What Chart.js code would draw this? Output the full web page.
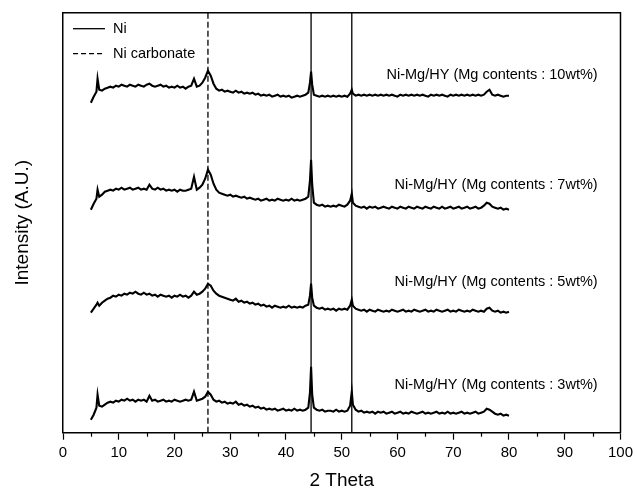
<!DOCTYPE html>
<html>
<head>
<meta charset="utf-8">
<script src="https://cdn.jsdelivr.net/npm/chart.js@4.4.1/dist/chart.umd.min.js"></script>
<style>
  html, body { margin: 0; padding: 0; background: #fff; }
</style>
</head>
<body>
<canvas id="xrd" width="637" height="492"></canvas>
<script>
// 2 theta grid shared by all four patterns
const twoTheta = [5,5.5,6,6.2,6.5,7,7.5,8,8.5,9,
  9.5,10,10.5,11,11.5,12,12.5,13,13.5,14,
  14.5,15,15.5,16,16.5,17,17.5,18,18.5,19,
  19.5,20,20.5,21,21.5,22,22.5,23,23.5,24,
  24.5,25,25.5,26,26.5,27,27.5,28,28.5,29,
  29.5,30,30.5,31,31.5,32,32.5,33,33.5,34,
  34.5,35,35.5,36,36.5,37,37.5,38,38.5,39,
  39.5,40,40.5,41,41.5,42,42.5,43,43.5,44,
  44.3,44.5,44.7,45,45.5,46,46.5,47,47.5,48,
  48.5,49,49.5,50,50.5,51,51.5,51.8,52,52.5,
  53,53.5,54,54.5,55,55.5,56,56.5,57,57.5,
  58,58.5,59,59.5,60,60.5,61,61.5,62,62.5,
  63,63.5,64,64.5,65,65.5,66,66.5,67,67.5,
  68,68.5,69,69.5,70,70.5,71,71.5,72,72.5,
  73,73.5,74,74.5,75,75.5,76,76.5,77,77.5,
  78,78.5,79,79.5,80];

// intensities (offset, arbitrary units)
const mg3 = [13,18,25,38,27,26,28,30,31,30,
  32,31,33,32,34,32,33,31,33,32,
  33,31,37,32,33,31,32,33,31,32,
  31,33,32,31,32,33,32,33,41,32,
  33,34,36,41,38,33,31,32,30,31,
  29,30,29,31,28,29,27,28,26,27,
  25,26,24,25,23,24,23,24,22,23,
  24,22,23,22,24,22,23,22,23,25,
  40,66,38,25,23,22,23,21,22,22,
  21,23,21,22,21,22,27,41,28,23,
  21,22,20,21,20,21,19,21,20,21,
  19,20,21,19,20,21,19,20,19,21,
  20,19,20,21,19,20,19,20,21,19,
  20,19,21,19,20,19,20,21,19,20,
  19,20,21,19,20,21,24,23,21,19,
  18,19,17,18,17];

const mg5 = [120,124,128,130,127,130,132,134,135,137,
  136,138,137,139,138,140,139,141,139,138,
  140,138,139,137,138,136,138,137,136,137,
  135,137,136,138,136,137,135,137,141,138,
  139,141,144,149,147,142,139,137,136,135,
  134,133,132,134,131,132,130,131,129,130,
  128,129,127,128,126,127,125,127,126,125,
  126,125,127,125,126,125,126,125,127,128,
  137,149,135,127,125,124,125,123,124,123,
  124,122,124,123,124,123,127,133,127,124,
  123,122,123,121,123,122,121,123,122,121,
  122,121,123,122,121,122,123,121,122,121,
  123,122,121,122,123,121,122,121,123,122,
  121,122,123,121,122,121,123,122,121,122,
  121,123,122,121,122,121,124,125,122,121,
  122,120,121,120,121];

const mg7 = [223,229,234,243,236,238,241,242,243,242,
  244,243,245,243,244,245,243,244,245,243,
  244,243,248,244,243,245,243,244,242,243,
  242,243,241,243,242,242,243,244,256,243,
  245,248,254,263,258,249,243,240,239,238,
  237,238,236,237,236,235,236,234,235,234,
  233,234,232,233,234,232,233,232,234,233,
  232,233,232,234,232,233,232,233,234,236,
  252,273,248,230,228,227,228,226,227,226,
  227,226,228,227,226,228,232,239,230,227,
  226,225,226,224,226,225,226,224,225,226,
  225,224,226,225,224,226,225,224,226,225,
  224,226,225,224,226,225,224,226,225,224,
  226,224,225,226,224,225,226,224,225,226,
  224,225,226,224,225,227,230,229,226,225,
  224,225,223,224,223];

const mg10 = [330,336,341,354,343,342,344,345,346,345,
  347,346,348,347,346,348,347,346,348,347,
  346,348,349,347,346,347,348,346,347,345,
  346,345,347,345,346,344,346,347,354,346,
  347,350,355,362,357,349,344,342,343,341,
  342,341,340,342,340,341,339,340,339,340,
  338,339,337,338,337,338,336,337,338,336,
  337,336,337,335,336,337,336,337,338,340,
  350,361,348,338,337,336,337,336,337,336,
  337,336,337,336,337,336,339,343,339,337,
  338,337,338,337,338,337,338,337,338,337,
  338,337,338,337,336,338,337,338,337,338,
  337,338,337,338,337,336,338,337,338,337,
  338,337,336,338,337,338,337,338,337,338,
  337,338,337,338,337,338,341,343,338,337,
  338,337,336,337,337];

const sampleNames = [
  'Ni-Mg/HY (Mg contents : 3wt%)',
  'Ni-Mg/HY (Mg contents : 5wt%)',
  'Ni-Mg/HY (Mg contents : 7wt%)',
  'Ni-Mg/HY (Mg contents : 10wt%)'
];
const niPeaks = [44.5, 51.8];
const carbonatePeaks = [26];
const xTicks = [0, 10, 20, 30, 40, 50, 60, 70, 80, 90, 100];

const FONT = "'Liberation Sans', Arial, sans-serif";
const yMin = 0, yMax = 420;

const toPoints = ys => twoTheta.map((x, i) => ({ x: x, y: ys[i] }));
const vline = x => [{ x: x, y: yMin }, { x: x, y: yMax }];

const datasets = [];
[mg3, mg5, mg7, mg10].forEach((ys, i) => {
  datasets.push({
    label: sampleNames[i],
    data: toPoints(ys),
    borderColor: '#000',
    borderWidth: 2.1,
    pointRadius: 0,
    tension: 0
  });
});
niPeaks.forEach(p => {
  datasets.push({ label: 'Ni', data: vline(p), borderColor: '#111', borderWidth: 1.4, pointRadius: 0 });
});
carbonatePeaks.forEach(p => {
  datasets.push({ label: 'Ni carbonate', data: vline(p), borderColor: '#111', borderWidth: 1.4, borderDash: [6, 3], pointRadius: 0 });
});

// frame, minor ticks, legend and sample labels
const overlay = {
  id: 'overlay',
  afterDraw(chart) {
    const { ctx, chartArea: a, scales } = chart;
    const x = scales.x, y = scales.y;
    ctx.save();
    ctx.strokeStyle = '#000';
    ctx.lineWidth = 1.5;
    ctx.beginPath();
    ctx.moveTo(a.left, a.top);
    ctx.lineTo(a.right, a.top);
    ctx.lineTo(a.right, a.bottom);
    ctx.stroke();

    ctx.lineWidth = 1.2;
    for (let v = 5; v < 100; v += 10) {
      const px = Math.round(x.getPixelForValue(v)) + 0.5;
      ctx.beginPath();
      ctx.moveTo(px, a.bottom);
      ctx.lineTo(px, a.bottom + 4);
      ctx.stroke();
    }

    // legend
    ctx.font = '14.5px ' + FONT;
    ctx.fillStyle = '#000';
    ctx.textBaseline = 'middle';
    ctx.textAlign = 'left';
    const items = [{ text: 'Ni', dash: [] }, { text: 'Ni carbonate', dash: [5, 3] }];
    items.forEach((it, i) => {
      const ly = a.top + 16 + i * 25;
      ctx.setLineDash(it.dash);
      ctx.lineWidth = 1.3;
      ctx.beginPath();
      ctx.moveTo(a.left + 10, ly);
      ctx.lineTo(a.left + 42, ly);
      ctx.stroke();
      ctx.setLineDash([]);
      ctx.fillText(it.text, a.left + 50, ly);
    });

    // sample labels
    const labelY = [48, 151, 248, 358];
    ctx.textAlign = 'right';
    sampleNames.forEach((s, i) => {
      ctx.fillText(s, x.getPixelForValue(95.9), y.getPixelForValue(labelY[i]));
    });
    ctx.restore();
  }
};

new Chart(document.getElementById('xrd'), {
  type: 'line',
  data: { datasets: datasets },
  plugins: [overlay],
  options: {
    responsive: false,
    animation: false,
    layout: { padding: { top: 12.7, right: 16, left: 0, bottom: 0 } },
    plugins: { legend: { display: false }, tooltip: { enabled: false } },
    scales: {
      x: {
        type: 'linear',
        min: 0,
        max: 100,
        afterBuildTicks: s => { s.ticks = xTicks.map(v => ({ value: v })); },
        afterFit: s => { s.height = 59.3; },
        ticks: { color: '#000', font: { family: FONT, size: 15 }, padding: 4, maxRotation: 0 },
        grid: { display: true, drawOnChartArea: false, drawTicks: true, tickLength: 7, tickColor: '#000', tickWidth: 1.2 },
        border: { display: true, color: '#000', width: 1.5 },
        title: { display: true, text: '2 Theta', color: '#000', font: { family: FONT, size: 19 }, padding: { top: 0, bottom: 0 } }
      },
      y: {
        type: 'linear',
        min: yMin,
        max: yMax,
        afterFit: s => { s.width = 63; },
        ticks: { display: false },
        grid: { display: false },
        border: { display: true, color: '#000', width: 1.5 },
        title: { display: true, text: 'Intensity (A.U.)', color: '#000', font: { family: FONT, size: 19 }, padding: { top: 11, bottom: 0 } }
      }
    }
  }
});
</script>
</body>
</html>
